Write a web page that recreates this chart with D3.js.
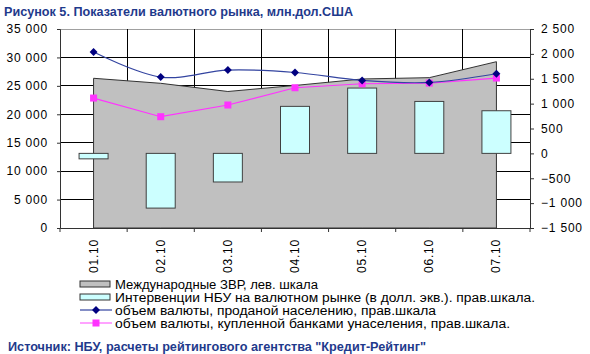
<!DOCTYPE html>
<html><head><meta charset="utf-8">
<script src="https://cdn.jsdelivr.net/npm/d3@7"></script>
<style>
body{margin:0;background:#fff;}
svg{display:block;font-family:Arial,"Liberation Sans",sans-serif;}
</style></head>
<body>
<svg id="chart" width="590" height="354"></svg>
<script>
const categories = ["01.10","02.10","03.10","04.10","05.10","06.10","07.10"];
const reserves = [26330, 25450, 24010, 25070, 26210, 26440, 29250];      // left scale
const interventions = [-110, -1100, -575, 945, 1313, 1044, 857];        // right scale
const soldToPopulation = [2036, 1534, 1675, 1626, 1466, 1426, 1600];    // right scale
const boughtFromPopulation = [1112, 737, 972, 1319, 1400, 1413, 1514];  // right scale
const leftTicks = [0,5000,10000,15000,20000,25000,30000,35000];
const rightTicks = [-1500,-1000,-500,0,500,1000,1500,2000,2500];
const titleText = "Рисунок 5. Показатели валютного рынка, млн.дол.США";
const sourceText = "Источник: НБУ, расчеты рейтингового агентства \"Кредит-Рейтинг\"";
const legendItems = [
  "Международные ЗВР, лев. шкала",
  "Интервенции НБУ на валютном рынке (в долл. экв.). прав.шкала.",
  "объем валюты, проданой населению, прав.шкала",
  "объем валюты, купленной банками унаселения, прав.шкала."
];

const svg = d3.select("#chart");
const L = 60, R = 530, T = 29, B = 228;
const x = d3.scaleBand().domain(categories).range([L, R]).padding(0);
const cx = c => x(c) + x.bandwidth()/2;
const yL = d3.scaleLinear().domain([0,35000]).range([B, T]);
const yR = d3.scaleLinear().domain([-1500,2500]).range([B, T]);
const fmt = v => d3.format(",")(v).replace(/,/g, " ");
const title = "#1f3a8c";

// title
svg.append("text").attr("x",4).attr("y",16).attr("fill",title)
  .attr("font-size",12).attr("font-weight","bold")
  .attr("textLength",349).attr("lengthAdjust","spacingAndGlyphs").text(titleText);

// gridlines
const g = svg.append("g");
g.selectAll("line.h").data(leftTicks.slice(1)).join("line")
  .attr("x1",L).attr("x2",R).attr("y1",d=>yL(d)).attr("y2",d=>yL(d))
  .attr("stroke", d => d===35000 ? "#a0a0a0" : "#000").attr("stroke-width",1)
  .attr("shape-rendering","crispEdges");
g.selectAll("line.v").data(categories.slice(1)).join("line")
  .attr("x1",d=>x(d)).attr("x2",d=>x(d)).attr("y1",T).attr("y2",B)
  .attr("stroke","#000").attr("shape-rendering","crispEdges");

// area
const area = d3.area().x((d,i)=>cx(categories[i])).y0(yL(0)).y1(d=>yL(d));
svg.append("path").datum(reserves).attr("d",area)
  .attr("fill","#c0c0c0").attr("stroke","#333").attr("stroke-width",1);

// bars
const bw = 29;
svg.selectAll("rect.bar").data(interventions).join("rect")
  .attr("x",(d,i)=>cx(categories[i]) - bw/2)
  .attr("y",d=>yR(Math.max(0,d)))
  .attr("width",bw)
  .attr("height",d=>Math.abs(yR(d)-yR(0)))
  .attr("fill","#ccffff").attr("stroke","#404040").attr("stroke-width",1);

// axes
const axL = svg.append("g").attr("transform",`translate(${L},0)`)
  .call(d3.axisLeft(yL).tickValues(leftTicks).tickSize(3).tickFormat(fmt));
const axR = svg.append("g").attr("transform",`translate(${R},0)`)
  .call(d3.axisRight(yR).tickValues(rightTicks).tickSize(4).tickFormat(fmt));
const axB = svg.append("g").attr("transform",`translate(0,${B})`)
  .call(d3.axisBottom(x).tickSize(0).tickFormat(""));
[axL,axR,axB].forEach(a=>{
  a.select(".domain").attr("stroke","#333");
  a.selectAll(".tick line").attr("stroke","#333");
  a.selectAll("text").attr("font-size",12).attr("fill","#000")
   .attr("font-family","Arial,'Liberation Sans',sans-serif").attr("letter-spacing","0.8px");
});
axL.selectAll("text").attr("x",-12);
axR.selectAll("text").attr("x",11);
// bottom ticks at boundaries
svg.selectAll("line.bt").data(d3.range(0, categories.length+1)).join("line")
  .attr("x1",i=>L + i*x.bandwidth()).attr("x2",i=>L + i*x.bandwidth())
  .attr("y1",B).attr("y2",B+4).attr("stroke","#333");
// category labels
svg.selectAll("text.cat").data(categories).join("text")
  .attr("transform",d=>`translate(${cx(d)+4},${239}) rotate(-90)`)
  .attr("text-anchor","end").attr("font-size",12).attr("letter-spacing","0.8px")
  .text(d=>d);

// lines
const lineSmooth = d3.line().x((d,i)=>cx(categories[i])).y(d=>yR(d)).curve(d3.curveCatmullRom.alpha(0));
const lineStraight = d3.line().x((d,i)=>cx(categories[i])).y(d=>yR(d));
svg.append("path").datum(boughtFromPopulation).attr("d",lineStraight)
  .attr("fill","none").attr("stroke","#ff33ff").attr("stroke-width",1.2);
svg.selectAll("rect.mk").data(boughtFromPopulation).join("rect")
  .attr("x",(d,i)=>cx(categories[i])-3.5).attr("y",d=>yR(d)-3.5)
  .attr("width",7).attr("height",7).attr("fill","#ff33ff");
svg.append("path").datum(soldToPopulation).attr("d",lineSmooth)
  .attr("fill","none").attr("stroke","#3344a0").attr("stroke-width",1.2);
const diamond = d3.symbol().type(d3.symbolDiamond2).size(40);
svg.selectAll("path.dm").data(soldToPopulation).join("path")
  .attr("d",diamond).attr("transform",(d,i)=>`translate(${cx(categories[i])},${yR(d)})`)
  .attr("fill","#000080");

// legend
const ly = [284, 297, 310, 323];
const lg = svg.append("g");
lg.append("rect").attr("x",80).attr("y",ly[0]-3).attr("width",30).attr("height",6)
  .attr("fill","#c0c0c0").attr("stroke","#333");
lg.append("rect").attr("x",80).attr("y",ly[1]-3).attr("width",30).attr("height",6)
  .attr("fill","#ccffff").attr("stroke","#333");
lg.append("line").attr("x1",80).attr("x2",112).attr("y1",ly[2]).attr("y2",ly[2]).attr("stroke","#3344a0").attr("stroke-width",1.2);
lg.append("path").attr("d",diamond).attr("transform",`translate(96,${ly[2]})`).attr("fill","#000080");
lg.append("line").attr("x1",80).attr("x2",112).attr("y1",ly[3]).attr("y2",ly[3]).attr("stroke","#ff66ff").attr("stroke-width",1.2);
lg.append("rect").attr("x",92.5).attr("y",ly[3]-3.5).attr("width",7).attr("height",7).attr("fill","#ff33ff");
const lw = [203, 420, 321, 395];
lg.selectAll("text").data(legendItems).join("text")
  .attr("x",115).attr("y",(d,i)=>ly[i]+4.5).attr("font-size",12)
  .attr("textLength",(d,i)=>lw[i]).attr("lengthAdjust","spacingAndGlyphs")
  .text(d=>d);

// source
svg.append("text").attr("x",8).attr("y",351).attr("fill",title)
  .attr("font-size",12).attr("font-weight","bold")
  .attr("textLength",418).attr("lengthAdjust","spacingAndGlyphs").text(sourceText);
</script>
</body></html>
